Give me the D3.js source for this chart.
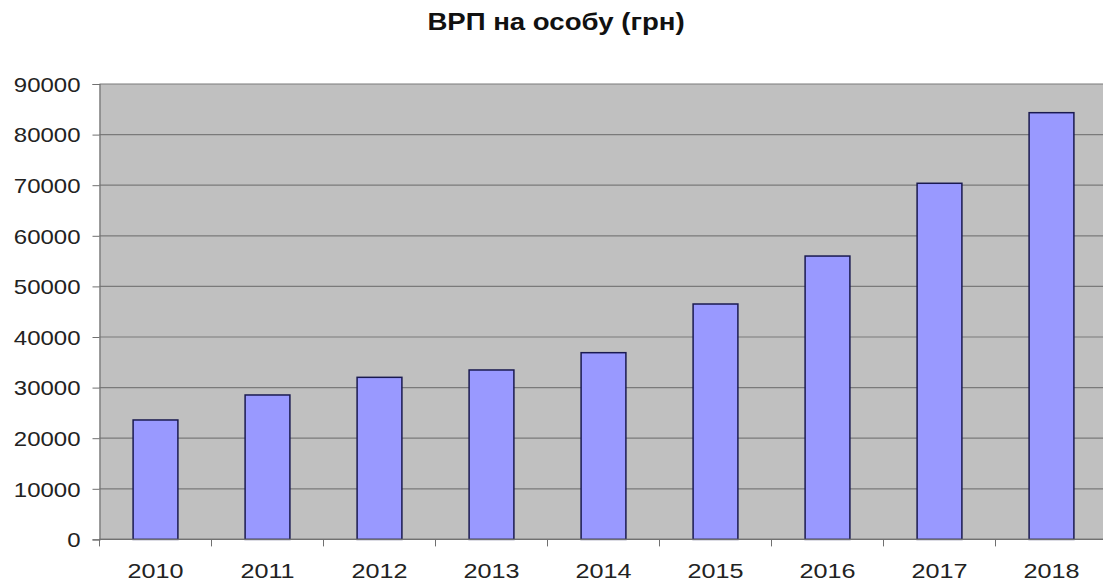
<!DOCTYPE html>
<html><head><meta charset="utf-8">
<script src="https://cdn.jsdelivr.net/npm/d3@7"></script>
<style>body{margin:0;background:#fff;} svg{display:block;}</style>
</head><body>
<svg id="c" width="1103" height="583"></svg>
<script>
const years = ["2010","2011","2012","2013","2014","2015","2016","2017","2018"];
const values = [23600, 28540, 32030, 33480, 36900, 46520, 56000, 70380, 84330];
const yTicks = [0,10000,20000,30000,40000,50000,60000,70000,80000,90000];
const title = "ВРП на особу (грн)";

const FONT = "Liberation Sans, Arial, sans-serif";
const SX = 1.2;
const svg = d3.select("#c");
const L = 99.5, R = 1107.5, T = 84, B = 539.4;
const x = d3.scaleBand().domain(years).range([L, R]).paddingInner(0.6).paddingOuter(0.3);
const y = d3.scaleLinear().domain([0, 90000]).range([B, T]);

svg.append("rect").attr("x", L).attr("y", T).attr("width", R - L).attr("height", B - T).attr("fill", "#c0c0c0");

svg.append("g").selectAll("line").data(yTicks).join("line")
  .attr("x1", L).attr("x2", R).attr("y1", d => y(d)).attr("y2", d => y(d))
  .attr("stroke", "#7a7a7a").attr("stroke-width", 1.2);

svg.append("g").selectAll("rect").data(values).join("rect")
  .attr("x", (d, i) => x(years[i])).attr("width", x.bandwidth())
  .attr("y", d => y(d)).attr("height", d => B - y(d))
  .attr("fill", "#9999ff").attr("stroke", "#1a1a50").attr("stroke-width", 1.5);

const yAxis = d3.axisLeft(y).tickValues(yTicks).tickFormat(d3.format("d")).tickSize(7).tickPadding(10);
const gy = svg.append("g").attr("transform", `translate(${L},0)`).call(yAxis);
gy.select(".domain").attr("stroke", "#707070").attr("stroke-width", 1.2);
gy.selectAll(".tick line").attr("stroke", "#707070");
gy.selectAll(".tick text")
  .attr("x", null).attr("dy", "0.36em")
  .attr("transform", `translate(-19,0) scale(${SX},1)`)
  .attr("font-family", FONT).attr("font-size", 20).attr("fill", "#222");

// x axis: ticks at category boundaries
const xa = svg.append("g");
xa.append("line").attr("x1", L).attr("x2", R).attr("y1", B).attr("y2", B).attr("stroke", "#707070").attr("stroke-width", 1.2);
const step = x.step();
xa.selectAll("line.t").data(d3.range(years.length + 1)).join("line").attr("class","t")
  .attr("x1", i => L + i * step).attr("x2", i => L + i * step)
  .attr("y1", B).attr("y2", B + 7).attr("stroke", "#707070");
xa.selectAll("text").data(years).join("text")
  .attr("transform", d => `translate(${x(d) + x.bandwidth() / 2},578) scale(${SX},1)`)
  .attr("text-anchor", "middle").attr("font-family", FONT)
  .attr("font-size", 21).attr("fill", "#222").text(d => d);

svg.append("text").attr("transform", `translate(556,30) scale(${SX},1)`).attr("text-anchor", "middle")
  .attr("font-family", FONT).attr("font-weight", "bold")
  .attr("font-size", 23).attr("fill", "#111").text(title);
</script>
</body></html>
